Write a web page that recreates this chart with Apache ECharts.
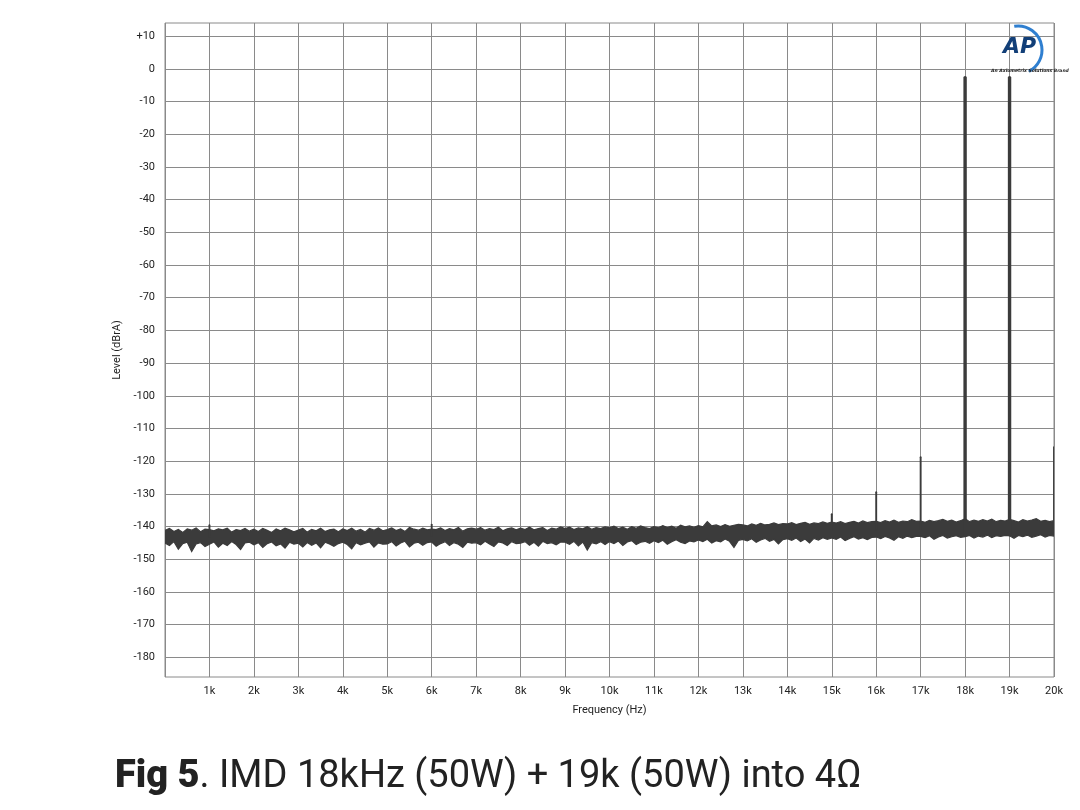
<!DOCTYPE html>
<html>
<head>
<meta charset="utf-8">
<script src="https://cdn.jsdelivr.net/npm/echarts@6/dist/echarts.min.js"></script>
<style>html,body{margin:0;padding:0;background:#fff}#c{width:1080px;height:810px}</style>
</head>
<body>
<div id="c"></div>
<script>
// Frequency step of the noise-floor envelope (Hz)
const stepHz = 100;
// Y-axis tick values (dBrA)
const yTicks = [-180,-170,-160,-150,-140,-130,-120,-110,-100,-90,-80,-70,-60,-50,-40,-30,-20,-10,0,10];
// X-axis tick values (Hz)
const xTicks = [1000,2000,3000,4000,5000,6000,7000,8000,9000,10000,11000,12000,13000,14000,15000,16000,17000,18000,19000,20000];
// Upper edge of the noise floor (dBrA), every 100 Hz from 0 to 20 kHz
const bandTop = [
 -141.2,-140.6,-141.5,-140.9,-141.8,-140.7,-141.1,-140.4,-141.6,-140.8,
 -140.9,-141.3,-140.7,-141.0,-140.5,-141.7,-140.9,-141.2,-140.6,-141.4,
 -140.8,-141.5,-140.6,-141.1,-141.8,-140.7,-141.3,-140.5,-141.0,-141.6,
 -141.1,-140.6,-141.7,-140.9,-141.3,-140.5,-141.5,-141.0,-140.8,-141.6,
 -140.7,-141.2,-140.5,-141.4,-140.9,-141.7,-140.6,-141.1,-140.4,-141.3,
 -140.9,-140.4,-141.2,-140.7,-141.5,-140.3,-140.8,-141.1,-140.5,-141.0,
 -140.8,-140.9,-140.4,-141.2,-140.6,-141.0,-140.3,-141.4,-140.7,-140.5,
 -140.8,-140.3,-141.1,-140.6,-140.9,-140.2,-141.3,-140.7,-140.4,-141.0,
 -140.5,-140.9,-140.2,-141.0,-140.6,-140.3,-141.2,-140.5,-140.8,-140.1,
 -140.6,-140.2,-140.9,-140.4,-140.7,-140.0,-140.8,-140.3,-140.6,-140.1,
 -140.4,-139.9,-140.6,-140.2,-140.8,-140.0,-140.5,-139.8,-140.3,-140.6,
 -140.0,-140.4,-139.7,-140.3,-139.9,-140.5,-139.6,-140.1,-139.8,-140.2,
 -139.7,-140.1,-138.5,-139.8,-139.5,-140.0,-139.4,-139.9,-139.6,-139.3,
 -139.5,-139.8,-139.2,-139.6,-139.0,-139.5,-139.3,-138.9,-139.4,-139.1,
 -139.2,-138.8,-139.4,-139.0,-138.7,-139.3,-138.9,-139.1,-138.6,-139.0,
 -138.6,-138.9,-138.5,-139.1,-138.7,-138.4,-138.9,-138.3,-138.8,-138.5,
 -138.4,-138.8,-138.2,-138.6,-138.0,-138.7,-138.3,-138.5,-137.9,-138.4,
 -138.3,-138.7,-138.1,-138.5,-138.2,-137.8,-138.4,-138.0,-138.6,-138.2,
 -137.6,-138.5,-138.0,-138.4,-137.9,-138.3,-137.7,-138.5,-138.1,-138.3,
 -137.8,-138.2,-138.6,-137.9,-138.3,-138.0,-137.6,-138.4,-138.1,-138.5,
 -138.2
];
// Lower edge of the noise floor (dBrA), every 100 Hz from 0 to 20 kHz
const bandBottom = [
 -145.0,-145.8,-144.6,-146.9,-145.2,-144.8,-147.6,-145.3,-144.9,-146.1,
 -145.4,-144.7,-146.3,-145.1,-145.8,-144.6,-145.5,-147.0,-145.0,-144.8,
 -145.6,-144.9,-146.4,-145.2,-144.7,-145.9,-145.3,-146.6,-144.8,-145.4,
 -145.1,-146.2,-144.9,-145.7,-145.0,-146.5,-144.8,-145.3,-146.0,-145.2,
 -144.8,-145.5,-146.8,-144.9,-145.6,-145.1,-144.7,-146.3,-145.0,-145.4,
 -145.3,-144.6,-145.9,-145.0,-144.5,-146.2,-145.1,-144.8,-145.7,-144.9,
 -144.7,-146.0,-145.2,-144.6,-145.8,-144.9,-145.4,-146.4,-144.8,-145.1,
 -144.9,-145.6,-144.5,-145.3,-146.1,-144.7,-145.0,-145.8,-144.6,-145.2,
 -145.1,-144.6,-145.7,-144.8,-146.0,-144.5,-145.2,-144.9,-145.6,-144.7,
 -144.8,-145.4,-144.5,-145.9,-144.7,-147.2,-144.9,-145.3,-144.6,-145.5,
 -144.6,-145.2,-144.4,-145.8,-144.7,-144.3,-145.5,-144.8,-144.5,-145.1,
 -144.3,-144.9,-144.2,-145.4,-144.6,-144.0,-144.8,-145.2,-144.4,-144.7,
 -144.1,-144.6,-143.9,-145.0,-144.3,-144.7,-143.8,-144.5,-146.4,-144.2,
 -143.9,-144.4,-143.7,-144.8,-144.1,-143.6,-144.5,-143.9,-145.3,-144.0,
 -143.7,-144.2,-143.5,-144.6,-143.8,-145.0,-143.6,-144.1,-143.4,-143.9,
 -143.5,-143.9,-143.2,-144.3,-143.6,-143.1,-143.8,-143.4,-144.0,-143.3,
 -143.2,-143.7,-143.0,-143.5,-144.2,-143.1,-143.6,-142.9,-143.4,-143.0,
 -143.0,-143.4,-142.8,-143.9,-143.2,-142.7,-143.5,-143.1,-142.8,-143.3,
 -143.1,-142.7,-143.5,-142.9,-143.2,-142.6,-143.4,-142.8,-143.0,-142.7,
 -142.8,-143.6,-142.7,-143.1,-142.6,-143.3,-142.9,-142.5,-143.2,-142.7,
 -142.9
];
// Discrete spectral lines: frequency (Hz), peak level and foot level (dBrA)
const toneFreq = [1000, 6000, 15000, 16000, 17000, 18000, 19000, 20000];
const tonePeak = [-139.6, -139.4, -136.2, -129.5, -118.8, -2.7, -2.7, -115.7];
const toneFoot = [-143.0, -142.8, -141.0, -140.8, -140.7, -142.5, -142.5, -140.5];

const titleBold = 'Fig 5';
const titleRest = '. IMD 18kHz (50W) + 19k (50W) into 4Ω';

const gridColor = '#8a8a8a';
const traceColor = '#3b3b3b';
const labelFont = 'Roboto';

const bandData = bandTop.map((v, i) => [i * stepHz, v, bandBottom[i]]);
const toneData = toneFreq.map((f, i) => [f, tonePeak[i], toneFoot[i]]);

function renderBand(params, api) {
  if (params.dataIndex !== 0) return null;
  const top = bandTop.map((v, i) => api.coord([i * stepHz, v]));
  const bot = bandBottom.map((v, i) => api.coord([i * stepHz, v]));
  const poly = top.concat(bot.slice().reverse());
  return {
    type: 'polygon', shape: {points: poly},
    style: {fill: traceColor, stroke: traceColor, lineWidth: 1.2}
  };
}

function renderTone(params, api) {
  const f = api.value(0);
  const p = api.coord([f, api.value(1)]);
  const b = api.coord([f, api.value(2)]);
  const big = api.value(1) > -60;
  return {
    type: 'line',
    shape: {x1: p[0], y1: p[1], x2: b[0], y2: b[1]},
    style: {stroke: traceColor, lineWidth: big ? 3.4 : 1.9, lineCap: 'round'}
  };
}

const chart = echarts.init(document.getElementById('c'), null, {renderer: 'canvas'});
chart.setOption({
  animation: false,
  backgroundColor: '#fff',
  grid: {left: 165, right: 26, top: 23, bottom: 133, show: true, borderColor: gridColor, borderWidth: 1},
  xAxis: {
    type: 'value', min: 0, max: 20000, interval: 1000,
    name: 'Frequency (Hz)', nameLocation: 'middle', nameGap: 28,
    nameTextStyle: {fontFamily: labelFont, fontSize: 11, color: '#222'},
    axisLine: {show: false}, axisTick: {show: false},
    axisLabel: {
      margin: 9, fontFamily: labelFont, fontSize: 11, color: '#222',
      customValues: xTicks,
      formatter: v => (v / 1000) + 'k'
    },
    splitLine: {show: true, lineStyle: {color: gridColor, width: 1}}
  },
  yAxis: {
    type: 'value', min: -186, max: 14,
    name: 'Level (dBrA)', nameLocation: 'middle', nameGap: 33,
    nameTextStyle: {fontFamily: labelFont, fontSize: 11, color: '#222'},
    axisLine: {show: false},
    axisTick: {show: false, customValues: yTicks},
    axisLabel: {
      margin: 10, fontFamily: labelFont, fontSize: 11, color: '#222',
      customValues: yTicks,
      formatter: v => (v > 0 ? '+' + v : String(v))
    },
    splitLine: {show: true, lineStyle: {color: gridColor, width: 1}}
  },
  title: {
    left: 110, top: 753,
    text: '{b|' + titleBold + '}{n|' + titleRest + '}',
    textStyle: {
      rich: {
        b: {fontFamily: 'Roboto', fontWeight: 900, fontSize: 38, color: '#222'},
        n: {fontFamily: 'Roboto', fontWeight: 'normal', fontSize: 38, color: '#222'}
      }
    }
  },
  graphic: [
    {type: 'arc', shape: {cx: 1018, cy: 50, r: 24, startAngle: -Math.PI * 0.55, endAngle: Math.PI * 0.35, clockwise: true},
     style: {stroke: '#2f7fd0', lineWidth: 3, fill: null}, z: 10},
    {type: 'text', left: 1003, top: 36, style: {text: 'AP', font: 'italic bold 22px "DejaVu Sans"', fill: '#123f78'}, z: 11},
    {type: 'text', left: 991, top: 68, style: {text: 'An Axiometrix Solutions Brand', font: 'italic bold 4.5px "DejaVu Sans"', fill: '#222'}, z: 11}
  ],
  series: [
    {type: 'custom', data: bandData, renderItem: renderBand, clip: true, z: 5},
    {type: 'custom', data: toneData, renderItem: renderTone, clip: true, z: 6}
  ]
});
</script>
</body>
</html>
